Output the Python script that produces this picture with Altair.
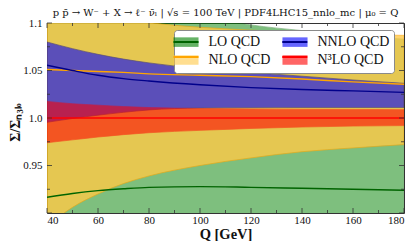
import altair as alt
import pandas as pd

# ---- data ----
Q = [40, 50, 60, 70, 80, 100, 120, 140, 160, 180]

LO_c  = [0.9165, 0.9205, 0.9235, 0.9255, 0.927, 0.9278, 0.927, 0.926, 0.925, 0.924]
LO_lo = [0.860, 0.865, 0.870, 0.873, 0.876, 0.880, 0.883, 0.885, 0.887, 0.888]
LO_hi = [1.165, 1.152, 1.140, 1.131, 1.123, 1.108, 1.098, 1.092, 1.087, 1.083]

NLO_c  = [1.051, 1.050, 1.049, 1.048, 1.0465, 1.045, 1.0435, 1.041, 1.038, 1.0355]
NLO_lo = [0.886, 0.906, 0.920, 0.931, 0.939, 0.950, 0.958, 0.9645, 0.9685, 0.972]
NLO_hi = [1.128, 1.118, 1.110, 1.1045, 1.1005, 1.0955, 1.0925, 1.090, 1.088, 1.087]

NNLO_c  = [1.0555, 1.050, 1.045, 1.0415, 1.039, 1.035, 1.032, 1.030, 1.0285, 1.027]
NNLO_lo = [0.9955, 0.9995, 1.003, 1.006, 1.0085, 1.0105, 1.0108, 1.011, 1.011, 1.011]
NNLO_hi = [1.080, 1.073, 1.067, 1.062, 1.058, 1.052, 1.048, 1.044, 1.040, 1.0365]

N3LO_c  = [1.0, 1.0, 1.0, 1.0, 1.0, 1.0, 1.0, 1.0, 1.0, 1.0]
N3LO_lo = [0.974, 0.977, 0.980, 0.9825, 0.9845, 0.987, 0.989, 0.9905, 0.9915, 0.992]
N3LO_hi = [1.0175, 1.015, 1.0135, 1.012, 1.011, 1.010, 1.0095, 1.0092, 1.009, 1.0088]

series = ["LO QCD", "NLO QCD", "NNLO QCD", "N³LO QCD"]
fill_colors = ["#008000", "#ffc947", "#0000ff", "#ff0000"]
line_colors = ["#006400", "#ffa500", "#00008b", "#ff0000"]
opacities = [0.5, 0.8, 0.6, 0.57]

x_major = [40, 60, 80, 100, 120, 140, 160, 180]
x_minor = [50, 70, 90, 110, 130, 150, 170]
y_major = [0.9, 0.95, 1.0, 1.05, 1.1]
y_minor = [0.925, 0.975, 1.025, 1.075]

title_text = "p p̄ → W⁻ + X → ℓ⁻ ν̄ₗ  |  √s = 100 TeV  |  PDF4LHC15_nnlo_mc  |  μ₀ = Q"

# ---- build table ----
TAG = "|s"
rows = []
for s, c, lo, hi in zip(series, [LO_c, NLO_c, NNLO_c, N3LO_c],
                        [LO_lo, NLO_lo, NNLO_lo, N3LO_lo],
                        [LO_hi, NLO_hi, NNLO_hi, N3LO_hi]):
    for q, m, a, b in zip(Q, c, lo, hi):
        rows.append({"series": s, "series2": s + TAG, "Q": q, "c": m, "lo": a, "hi": b})
df = pd.DataFrame(rows)

W, H = 357, 190
SERIF = "Liberation Serif"

xs = alt.Scale(domain=[40, 180], nice=False, zero=False)
ys = alt.Scale(domain=[0.9, 1.1], nice=False, zero=False)

xaxis = alt.Axis(values=x_major, ticks=False, domain=False, grid=False,
                 labelFont=SERIF, labelFontSize=11, labelColor="#111",
                 labelPadding=1, title="Q [GeV]", titleFont=SERIF,
                 titleFontSize=14.5, titleFontWeight="bold", titleColor="#111",
                 titleX=W / 2, titleY=25, titleBaseline="alphabetic")
yaxis = alt.Axis(values=y_major, ticks=False, domain=False, grid=False,
                 labelFont=SERIF, labelFontSize=11, labelColor="#111",
                 labelPadding=5,
                 labelExpr="abs(datum.value-0.9)<1e-6 ? '' : (abs(datum.value-1)<1e-6 ? '1.0' : (abs(datum.value-1.1)<1e-6 ? '1.1' : format(datum.value, '.2f')))",
                 title="Σ/Σₙ₃ₗₒ", titleFont=SERIF, titleFontSize=14,
                 titleFontWeight="bold", titleColor="#111",
                 titleX=-28, titleY=H / 2 + 4, titleAngle=270,
                 titleBaseline="alphabetic")

def X(field="Q"):
    return alt.X(f"{field}:Q", scale=xs, axis=xaxis)

def Y(field):
    return alt.Y(f"{field}:Q", scale=ys, axis=yaxis)

LEG_X, LEG_Y = 127, 7
COLPAD = 7
LABEL_W = 61.8  # width of the longest first-column label at 14px
leg_common = dict(orient="none", legendX=LEG_X, legendY=LEG_Y, columns=2,
                  title=None, symbolSize=196, symbolStrokeWidth=2,
                  labelFont=SERIF, labelFontSize=14, labelOffset=14.5,
                  padding=4, rowPadding=0)

legend_fill = alt.Legend(symbolType="M-1.79,-0.68H1.79V0.68H-1.79Z",
                         symbolOpacity=0.6, symbolStrokeColor="transparent",
                         labelColor="#111", columnPadding=COLPAD,
                         fillColor="white", strokeColor="#8a8a8a",
                         cornerRadius=3, zindex=1, **leg_common)
legend_stroke = alt.Legend(symbolType="M-1.79,0H1.79", symbolOpacity=1,
                           symbolFillColor="transparent",
                           labelExpr="''", columnPadding=COLPAD + LABEL_W,
                           zindex=2, **leg_common)

fill_scale = alt.Scale(domain=series, range=fill_colors)

layers = []
for s, op, lc in zip(series, opacities, line_colors):
    layers.append(
        alt.Chart(df).transform_filter(alt.datum.series == s)
        .mark_area(opacity=op, stroke=lc, strokeWidth=0.7, clip=True,
                   interpolate="monotone")
        .encode(x=X(), y=Y("lo"), y2="hi:Q",
                fill=alt.Fill("series:N", scale=fill_scale, legend=legend_fill))
    )

lines = (alt.Chart(df).mark_line(strokeWidth=1.4, clip=True, interpolate="monotone")
         .encode(x=X(), y=Y("c"),
                 stroke=alt.Stroke("series2:N",
                                   scale=alt.Scale(domain=[s + TAG for s in series],
                                                   range=line_colors),
                                   legend=legend_stroke)))
layers.append(lines)

# inward ticks on all four sides
def xticks(vals, length):
    d = pd.DataFrame({"Q": vals})
    base = alt.Chart(d).mark_rule(color="#333", strokeWidth=0.8)
    return [base.encode(x=X(), y=alt.value(H), y2=alt.value(H - length)),
            base.encode(x=X(), y=alt.value(0), y2=alt.value(length))]

def yticks(vals, length):
    d = pd.DataFrame({"v": vals})
    base = alt.Chart(d).mark_rule(color="#333", strokeWidth=0.8)
    return [base.encode(y=Y("v"), x=alt.value(0), x2=alt.value(length)),
            base.encode(y=Y("v"), x=alt.value(W), x2=alt.value(W - length))]

layers += xticks(x_major, 5) + xticks(x_minor, 3) + yticks(y_major, 5) + yticks(y_minor, 3)

# chart title as a text line above the frame
title_layer = (alt.Chart(pd.DataFrame({"t": [title_text]}))
               .mark_text(font="DejaVu Serif", fontSize=10, color="#111",
                          align="center", baseline="alphabetic")
               .encode(text="t:N", x=alt.value(W / 2), y=alt.value(-7)))
layers.append(title_layer)

chart = (alt.layer(*layers)
         .properties(width=W, height=H,
                     padding={"left": 39, "top": 15, "right": 2, "bottom": 28},
                     autosize=alt.AutoSizeParams(type="none"))
         .configure_view(stroke="#333", strokeWidth=1))

chart.save("out.html", embed_options={"renderer": "svg", "actions": False})
